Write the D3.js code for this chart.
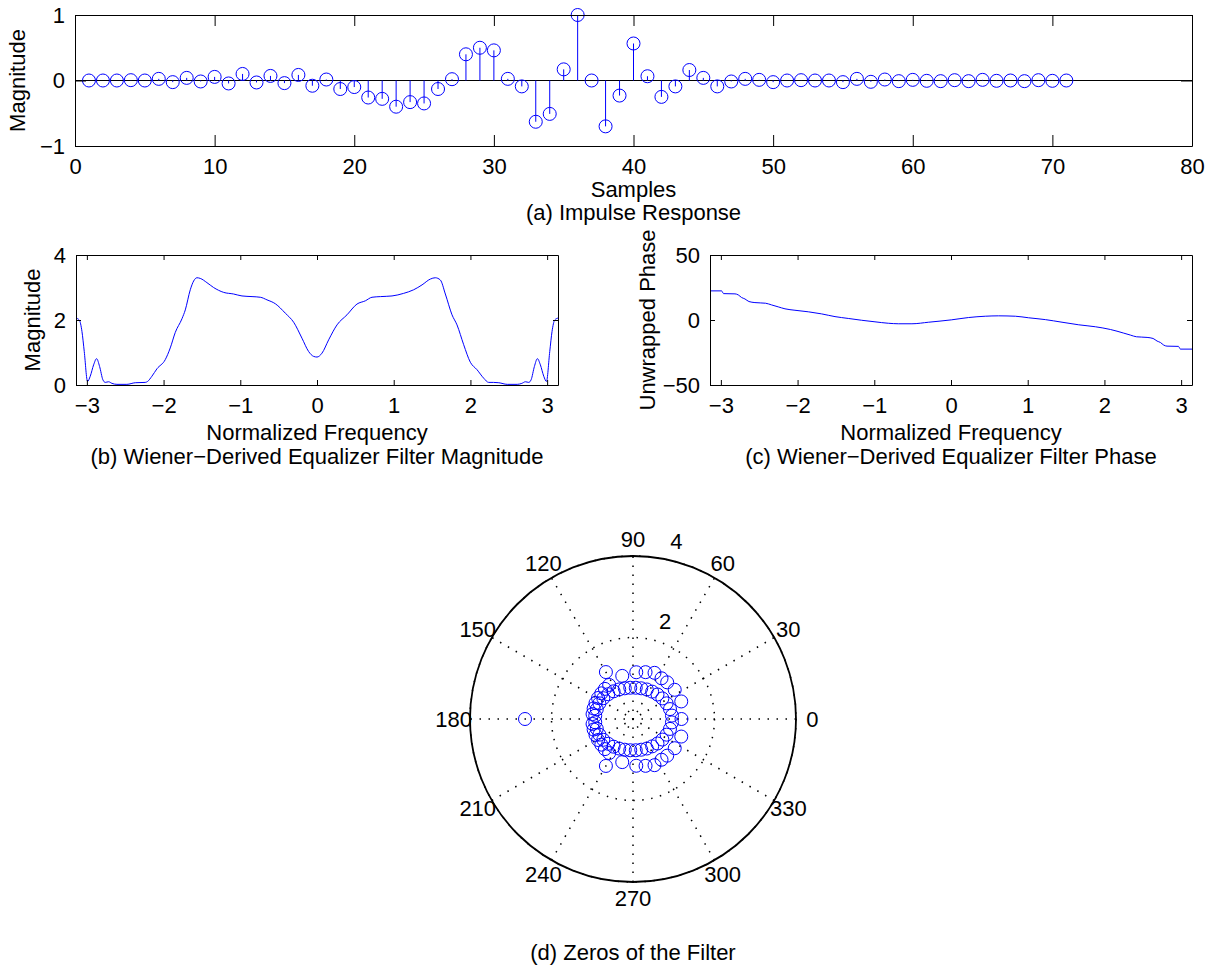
<!DOCTYPE html>
<html>
<head>
<meta charset="utf-8">
<script src="https://cdn.jsdelivr.net/npm/d3@7"></script>
<style>
  body { margin: 0; background: #fff; }
  svg text { font-family: "Liberation Sans", Arial, Helvetica, sans-serif; font-size: 22px; fill: #000; }
</style>
</head>
<body>
<svg id="fig" width="1213" height="969"></svg>
<script>
// ---------- (a) impulse response ----------
const sampleIndex = d3.range(1, 72);
const impulse = [
  0, 0, 0, 0.005, 0, 0.025, -0.025, 0.04, -0.015, 0.055,
  -0.045, 0.10, -0.03, 0.07, -0.04, 0.085, -0.08, 0.015, -0.13, -0.10,
  -0.26, -0.28, -0.40, -0.33, -0.35, -0.13, 0.02, 0.40, 0.50, 0.46,
  0.025, -0.09, -0.63, -0.51, 0.17, 1.0, 0, -0.70, -0.23, 0.565,
  0.065, -0.25, -0.09, 0.16, 0.04, -0.09, -0.015, 0.025, 0.01, -0.025,
  0, 0.005, 0, 0, -0.025, 0.025, -0.02, 0.015, -0.01, 0.01,
  -0.005, -0.01, 0.005, -0.01, 0.01, -0.005, 0, -0.01, 0.005, -0.005,
  0
];
const sampleTicks = [0, 10, 20, 30, 40, 50, 60, 70, 80];
const impulseTicks = [-1, 0, 1];

// ---------- (b) equalizer magnitude ----------
const magFreq = [
  -3.142, -3.099, -3.064, -3.034, -2.991, -2.956, -2.912, -2.873, -2.834, -2.791,
  -2.760, -2.717, -2.673, -2.608, -2.478, -2.369, -2.239, -2.208, -2.152, -2.086,
  -1.978, -1.913, -1.847, -1.760, -1.717, -1.652, -1.608, -1.565, -1.522, -1.435,
  -1.348, -1.217, -1.087, -0.978, -0.847, -0.739, -0.652, -0.543, -0.413, -0.304,
  -0.196, -0.109, -0.044, 0, 0.065, 0.152, 0.261, 0.391, 0.521, 0.630,
  0.717, 0.826, 0.978, 1.130, 1.260, 1.369, 1.478, 1.542, 1.608, 1.673,
  1.760, 1.825, 1.912, 1.999, 2.086, 2.173, 2.238, 2.300, 2.370, 2.480,
  2.610, 2.670, 2.717, 2.760, 2.791, 2.834, 2.873, 2.912, 2.956, 2.991,
  3.034, 3.064, 3.099, 3.142
];
const magValue = [
  2.06, 2.00, 1.65, 1.03, 0.11, 0.27, 0.62, 0.81, 0.57, 0.16,
  0.08, 0.10, 0.05, 0.02, 0.02, 0.07, 0.08, 0.11, 0.27, 0.50,
  0.78, 1.14, 1.62, 2.04, 2.31, 2.93, 3.20, 3.30, 3.28, 3.15,
  3.00, 2.85, 2.80, 2.74, 2.72, 2.70, 2.62, 2.50, 2.21, 1.93,
  1.44, 1.03, 0.88, 0.86, 0.98, 1.39, 1.85, 2.16, 2.49, 2.59,
  2.70, 2.72, 2.74, 2.82, 2.93, 3.08, 3.26, 3.30, 3.23, 2.80,
  2.16, 1.85, 1.24, 0.70, 0.47, 0.21, 0.08, 0.08, 0.07, 0.02,
  0.02, 0.05, 0.10, 0.08, 0.16, 0.57, 0.81, 0.62, 0.27, 0.11,
  1.03, 1.65, 2.00, 2.06
];
const freqTicks = [-3, -2, -1, 0, 1, 2, 3];
const magTicks = [0, 2, 4];

// ---------- (c) equalizer phase ----------
const phaseFreq = [
  -3.142, -2.991, -2.965, -2.816, -2.773, -2.730, -2.686, -2.634, -2.556, -2.417,
  -2.339, -2.252, -2.164, -2.034, -1.860, -1.687, -1.512, -1.339, -1.165, -0.991,
  -0.817, -0.687, -0.509, -0.291, 0.004, 0.230, 0.447, 0.621, 0.839, 1.012,
  1.230, 1.447, 1.665, 1.882, 2.078, 2.164, 2.252, 2.339, 2.417, 2.556,
  2.634, 2.686, 2.730, 2.773, 2.816, 2.965, 2.991, 3.142
];
const phaseValue = [
  22.4, 22.4, 20.3, 20.1, 19.3, 17.3, 16.2, 14.2, 13.4, 12.9,
  11.6, 10.1, 8.6, 7.5, 6.3, 4.7, 2.6, 1.2, -0.2, -1.4,
  -2.5, -2.9, -2.9, -1.7, 0.1, 1.9, 2.9, 3.2, 2.9, 1.7,
  0.3, -1.7, -3.7, -5.2, -7.3, -8.6, -10.1, -11.6, -12.9, -13.4,
  -14.2, -16.2, -17.3, -19.3, -20.1, -20.3, -22.4, -22.4
];
const phaseTicks = [-50, 0, 50];

// ---------- (d) zeros (angle in degrees, radius) ----------
const zeroAngle = [
  // inner ring
  5, 15, 25, 35, 45, 55, 65, 75, 85, 95, 105, 115, 125, 135, 145, 155, 165, 175,
  185, 195, 205, 215, 225, 235, 245, 255, 265, 275, 285, 295, 305, 315, 325, 335, 345, 355,
  // band near the unit circle
  125, 133, 141, 149, 157, 165, 173, -125, -133, -141, -149, -157, -165, -173,
  // outer arc
  0, 20, 35, 47, 55, 65, 75, 86, 104, 120, -20, -35, -47, -55, -65, -75, -86, -104, -120,
  // isolated real zero
  180
];
const zeroRadius = [
  0.96, 0.94, 0.91, 0.88, 0.85, 0.82, 0.80, 0.78, 0.77, 0.77, 0.78, 0.80, 0.83, 0.86, 0.89, 0.91, 0.92, 0.93,
  0.93, 0.92, 0.91, 0.89, 0.86, 0.83, 0.80, 0.78, 0.77, 0.77, 0.78, 0.80, 0.82, 0.85, 0.88, 0.91, 0.94, 0.96,
  1.02, 1.01, 1.00, 1.00, 1.00, 1.00, 1.00, 1.02, 1.01, 1.00, 1.00, 1.00, 1.00, 1.00,
  1.19, 1.26, 1.25, 1.23, 1.22, 1.25, 1.19, 1.15, 1.09, 1.33, 1.26, 1.25, 1.23, 1.22, 1.25, 1.19, 1.15, 1.09, 1.33,
  2.65
];
const ringTicks = [2, 4];
const spokeAngles = [30, 60, 90, 120, 150, 180];
const angleLabels = [0, 30, 60, 90, 120, 150, 180, 210, 240, 270, 300, 330];

const BLUE = "#0000ff";
const FONT = 22;
const svg = d3.select("#fig");
const intFmt = d3.format("d");

function styleAxis(sel) {
  sel.attr("font-size", FONT).attr("font-family", null).attr("color", "#000");
  sel.selectAll("text").attr("fill", "#000");
}

// boxed axes with inward ticks on all four sides
function frame(box, x, y, xt, yt, tl, padX) {
  const g = svg.append("g");
  g.append("g").attr("transform", `translate(0,${box.y1})`)
    .call(d3.axisBottom(x).tickValues(xt).tickFormat(intFmt).tickSizeInner(-tl).tickSizeOuter(0).tickPadding(padX))
    .call(styleAxis);
  g.append("g").attr("transform", `translate(0,${box.y0})`)
    .call(d3.axisTop(x).tickValues(xt).tickFormat("").tickSizeInner(-tl).tickSizeOuter(0))
    .call(styleAxis);
  g.append("g").attr("transform", `translate(${box.x0},0)`)
    .call(d3.axisLeft(y).tickValues(yt).tickFormat(intFmt).tickSizeInner(-tl).tickSizeOuter(0).tickPadding(10))
    .call(styleAxis);
  g.append("g").attr("transform", `translate(${box.x1},0)`)
    .call(d3.axisRight(y).tickValues(yt).tickFormat("").tickSizeInner(-tl).tickSizeOuter(0))
    .call(styleAxis);
  return g;
}

function label(txt, x, y, rotate) {
  const t = svg.append("text").attr("text-anchor", "middle").text(txt);
  if (rotate) t.attr("transform", `translate(${x},${y}) rotate(-90)`);
  else t.attr("x", x).attr("y", y);
  return t;
}

// ===== (a) =====
const boxA = { x0: 75, x1: 1192, y0: 15, y1: 146 };
const xA = d3.scaleLinear().domain([0, 80]).range([boxA.x0, boxA.x1]);
const yA = d3.scaleLinear().domain([-1, 1]).range([boxA.y1, boxA.y0]);
const gA = svg.append("g");
gA.append("line").attr("x1", xA(0)).attr("x2", xA(80)).attr("y1", yA(0)).attr("y2", yA(0))
  .attr("stroke", "#000").attr("stroke-width", 1);
gA.selectAll("line.stem").data(impulse).join("line").attr("class", "stem")
  .attr("x1", (d, i) => xA(sampleIndex[i])).attr("x2", (d, i) => xA(sampleIndex[i]))
  .attr("y1", yA(0)).attr("y2", d => yA(d))
  .attr("stroke", BLUE).attr("stroke-width", 1);
gA.selectAll("circle").data(impulse).join("circle")
  .attr("cx", (d, i) => xA(sampleIndex[i])).attr("cy", d => yA(d)).attr("r", 6.5)
  .attr("fill", "none").attr("stroke", BLUE).attr("stroke-width", 1);
frame(boxA, xA, yA, sampleTicks, impulseTicks, 11, 12);
label("Samples", (boxA.x0 + boxA.x1) / 2, 197);
label("(a) Impulse Response", (boxA.x0 + boxA.x1) / 2, 220);
label("Magnitude", 25, yA(0), true);

// clip helper
function clip(id, box) {
  svg.append("clipPath").attr("id", id).append("rect")
    .attr("x", box.x0).attr("y", box.y0).attr("width", box.x1 - box.x0).attr("height", box.y1 - box.y0);
}

// ===== (b) =====
const boxB = { x0: 76, x1: 558, y0: 255, y1: 385 };
const xB = d3.scaleLinear().domain([-Math.PI, Math.PI]).range([boxB.x0, boxB.x1]);
const yB = d3.scaleLinear().domain([0, 4]).range([boxB.y1, boxB.y0]);
clip("clipB", boxB);
svg.append("path").datum(magValue)
  .attr("clip-path", "url(#clipB)")
  .attr("d", d3.line().x((d, i) => xB(magFreq[i])).y(d => yB(d)).curve(d3.curveMonotoneX))
  .attr("fill", "none").attr("stroke", BLUE).attr("stroke-width", 1);
frame(boxB, xB, yB, freqTicks, magTicks, 5, 12.3);
label("Normalized Frequency", xB(0), 439.7);
label("(b) Wiener\u2212Derived Equalizer Filter Magnitude", xB(0), 464);
label("Magnitude", 40, yB(2), true);

// ===== (c) =====
const boxC = { x0: 710, x1: 1192, y0: 255, y1: 385 };
const xC = d3.scaleLinear().domain([-Math.PI, Math.PI]).range([boxC.x0, boxC.x1]);
const yC = d3.scaleLinear().domain([-50, 50]).range([boxC.y1, boxC.y0]);
clip("clipC", boxC);
svg.append("path").datum(phaseValue)
  .attr("clip-path", "url(#clipC)")
  .attr("d", d3.line().x((d, i) => xC(phaseFreq[i])).y(d => yC(d)).curve(d3.curveMonotoneX))
  .attr("fill", "none").attr("stroke", BLUE).attr("stroke-width", 1);
frame(boxC, xC, yC, freqTicks, phaseTicks, 5, 12.3);
label("Normalized Frequency", xC(0), 439.7);
label("(c) Wiener\u2212Derived Equalizer Filter Phase", xC(0), 464);
label("Unwrapped Phase", 655, yC(0), true);

// ===== (d) polar zero plot =====
const pc = { x: 633, y: 719 };
const rMax = 4;
const r = d3.scaleLinear().domain([0, rMax]).range([0, 163]);
const rad = a => a * Math.PI / 180;
const P = svg.append("g").attr("transform", `translate(${pc.x},${pc.y})`);
P.append("circle").attr("r", r(rMax)).attr("fill", "#fff");
// dotted rings
P.selectAll("circle.ring").data(ringTicks).join("circle").attr("class", "ring")
  .attr("r", d => r(d)).attr("fill", "none").attr("stroke", "#000")
  .attr("stroke-width", 1.5).attr("stroke-dasharray", "1.5,7.5");
// dotted spokes
P.selectAll("line.spoke").data(spokeAngles).join("line").attr("class", "spoke")
  .attr("x1", d => -r(rMax) * Math.cos(rad(d))).attr("y1", d => r(rMax) * Math.sin(rad(d)))
  .attr("x2", d => r(rMax) * Math.cos(rad(d))).attr("y2", d => -r(rMax) * Math.sin(rad(d)))
  .attr("stroke", "#000").attr("stroke-width", 1.5).attr("stroke-dasharray", "1.5,7.5");
// solid outer circle
P.append("circle").attr("r", r(rMax)).attr("fill", "none").attr("stroke", "#000").attr("stroke-width", 1.8);
// angle labels
P.selectAll("text.ang").data(angleLabels).join("text").attr("class", "ang")
  .attr("x", d => 1.1 * r(rMax) * Math.cos(rad(d)))
  .attr("y", d => -1.1 * r(rMax) * Math.sin(rad(d)))
  .attr("text-anchor", "middle").attr("dominant-baseline", "central")
  .text(d => d);
// ring labels along 82 degrees
P.selectAll("text.ring").data(ringTicks).join("text").attr("class", "ring")
  .attr("x", d => r(d + 0.1) * Math.cos(rad(82)) + 14)
  .attr("y", d => -r(d + 0.1) * Math.sin(rad(82)) - 5)
  .attr("text-anchor", "start")
  .text(d => d);
// zeros
P.selectAll("circle.zero").data(zeroRadius).join("circle").attr("class", "zero")
  .attr("cx", (d, i) => r(d) * Math.cos(rad(zeroAngle[i])))
  .attr("cy", (d, i) => -r(d) * Math.sin(rad(zeroAngle[i])))
  .attr("r", 6.5).attr("fill", "none").attr("stroke", BLUE).attr("stroke-width", 1);
label("(d) Zeros of the Filter", pc.x, 960);
</script>
</body>
</html>
